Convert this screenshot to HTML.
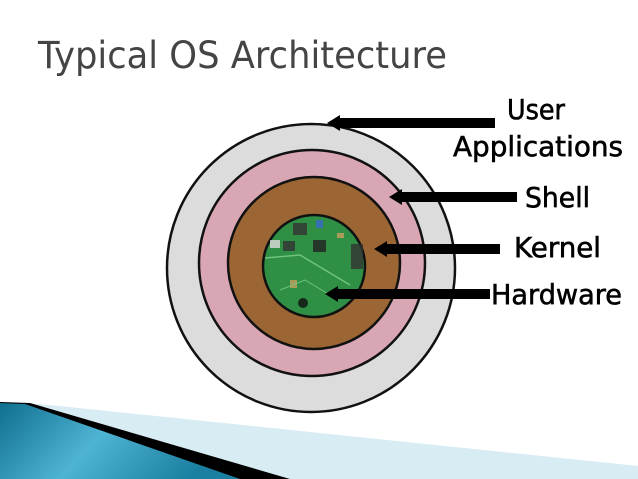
<!DOCTYPE html>
<html><head><meta charset="utf-8"><style>
html,body{margin:0;padding:0;background:#fff;width:638px;height:479px;overflow:hidden}
</style></head><body>
<svg width="638" height="479" viewBox="0 0 638 479" xmlns="http://www.w3.org/2000/svg">
<defs>
<linearGradient id="bl" x1="0" y1="0" x2="1" y2="0.3">
<stop offset="0" stop-color="#0f6f8f"/><stop offset="0.5" stop-color="#4fb3d3"/><stop offset="1" stop-color="#1a7fa0"/>
</linearGradient>
</defs>
<polygon points="0,403 40,404 638,466 638,479 230,479 0,479" fill="#d8ecf3"/>
<polygon points="0,402 30,403 290,479 0,479" fill="#000"/>
<polygon points="0,403 25,404 240,479 0,479" fill="url(#bl)"/>
<text x="38" y="68" font-family="DejaVu Sans, sans-serif" font-size="37" fill="#444" textLength="409" lengthAdjust="spacingAndGlyphs">Typical OS Architecture</text>
<circle cx="311" cy="268" r="144" fill="#dcdcdc" stroke="#111" stroke-width="2.5"/>
<circle cx="312" cy="263" r="113" fill="#d8a7b3" stroke="#111" stroke-width="2.5"/>
<circle cx="314" cy="263" r="86" fill="#9b6634" stroke="#111" stroke-width="2.5"/>
<circle cx="314" cy="266" r="51" fill="#2f8f45" stroke="#111" stroke-width="2.5"/>
<g opacity="0.8">
<rect x="293" y="223" width="14" height="12" fill="#333"/>
<rect x="316" y="220" width="7" height="8" fill="#3a6ad0"/>
<rect x="313" y="240" width="13" height="12" fill="#222"/>
<rect x="351" y="244" width="12" height="25" fill="#333"/>
<rect x="283" y="241" width="12" height="10" fill="#333"/>
<rect x="270" y="240" width="10" height="8" fill="#ddd"/>
<rect x="337" y="233" width="7" height="5" fill="#c8a060"/>
<rect x="290" y="280" width="7" height="8" fill="#c8a060"/>
<circle cx="303" cy="303" r="5" fill="#111"/>
<path d="M265 258 L300 255 L325 270 L350 285" stroke="#7fd08a" stroke-width="1.5" fill="none"/>
<path d="M280 290 L305 280 L330 295" stroke="#7fd08a" stroke-width="1" fill="none"/>
</g>
<g fill="#000">
<rect x="337" y="118" width="158" height="10"/><polygon points="327,123 340,115 340,131"/>
<rect x="399" y="192" width="118" height="10"/><polygon points="389,197 402,189 402,205"/>
<rect x="384" y="244" width="116" height="10"/><polygon points="374,249 387,241 387,257"/>
<rect x="335" y="289" width="155" height="10"/><polygon points="325,294 338,286 338,302"/>
</g>
<g font-family="DejaVu Sans, sans-serif" font-size="28" fill="#000" stroke="#000" stroke-width="0.6">
<text x="507" y="119" textLength="58" lengthAdjust="spacingAndGlyphs">User</text>
<text x="453" y="156" textLength="170" lengthAdjust="spacingAndGlyphs">Applications</text>
<text x="525" y="207" textLength="65" lengthAdjust="spacingAndGlyphs">Shell</text>
<text x="514" y="257" textLength="87" lengthAdjust="spacingAndGlyphs">Kernel</text>
<text x="491" y="304" textLength="131" lengthAdjust="spacingAndGlyphs">Hardware</text>
</g>
</svg>
</body></html>
